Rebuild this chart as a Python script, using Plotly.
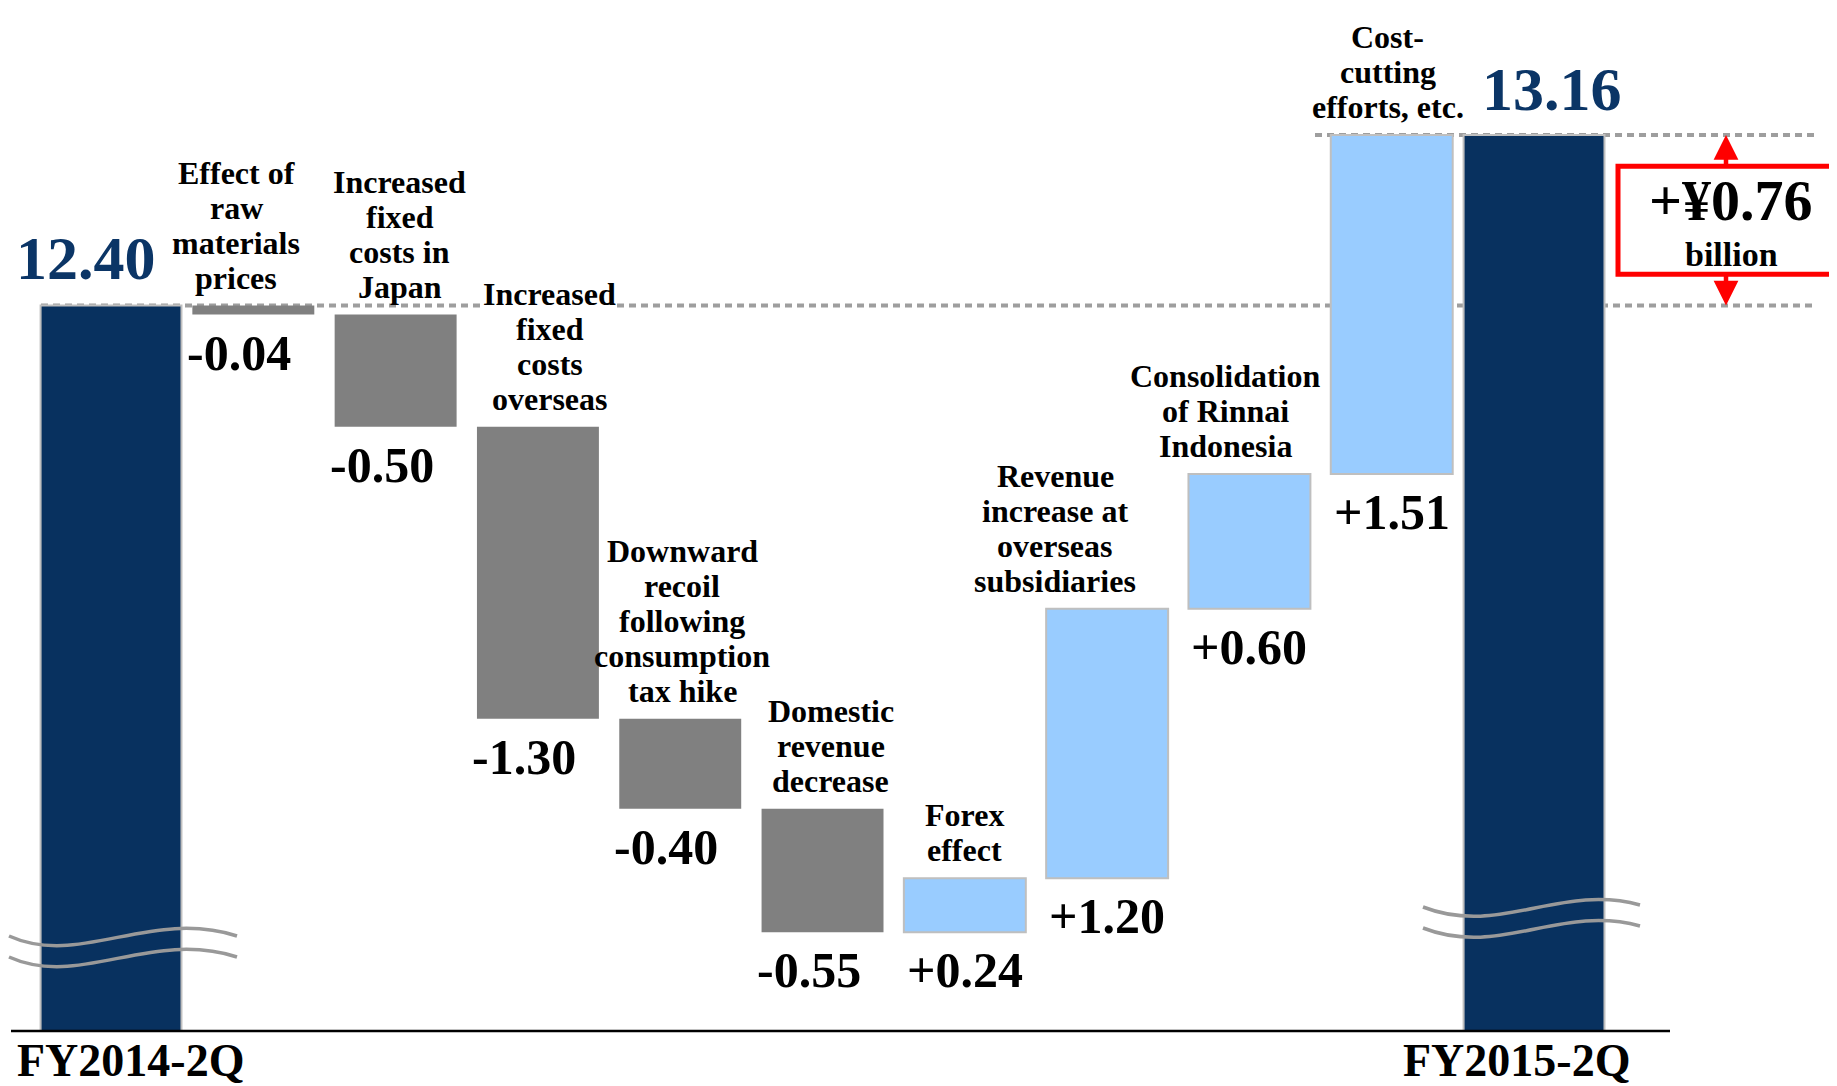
import plotly.graph_objects as go

# data (billion yen)
start_label = "FY2014-2Q"
end_label = "FY2015-2Q"
start_value = 12.40
end_value = 13.16
step_labels = [
    "Effect of\nraw\nmaterials\nprices",
    "Increased\nfixed\ncosts in\nJapan",
    "Increased\nfixed\ncosts\noverseas",
    "Downward\nrecoil\nfollowing\nconsumption\ntax hike",
    "Domestic\nrevenue\ndecrease",
    "Forex\neffect",
    "Revenue\nincrease at\noverseas\nsubsidiaries",
    "Consolidation\nof Rinnai\nIndonesia",
    "Cost-\ncutting\nefforts, etc.",
]
step_values = [-0.04, -0.50, -1.30, -0.40, -0.55, 0.24, 1.20, 0.60, 1.51]

FONT = "Liberation Serif"
NAVY = "#08315F"
OFF = 8                     # page body margin
FW, FH = 1837 - OFF, 1086 - OFF
B = 55                      # bottom margin, axis line sits here
PH = FH - B                 # plot height in px


def paper(x, y):
    # page pixel -> paper coords
    return (x - OFF) / FW, (PH - (y - OFF)) / PH


categories = [start_label] + [s.replace("\n", " ") for s in step_labels] + [end_label]
measures = ["absolute"] + ["relative"] * len(step_values) + ["total"]
values = [start_value] + step_values + [end_value]
widths = [0.99] + [0.857] * len(step_values) + [0.99]

# bar tops / bottoms for the labels
level = start_value
tops, bottoms = [], []
for v in step_values:
    new = level + v
    tops.append(max(level, new))
    bottoms.append(min(level, new))
    level = new

fig = go.Figure(go.Waterfall(
    x=categories, y=values, measure=measures, width=widths,
    connector=dict(visible=False),
    totals=dict(marker=dict(color=NAVY, line=dict(color="#BFBFBF", width=2))),
    decreasing=dict(marker=dict(color="#808080", line=dict(color="#808080", width=0))),
    increasing=dict(marker=dict(color="#99CCFF", line=dict(color="#BFBFBF", width=2))),
    textposition="none", hoverinfo="skip",
))

# step descriptions above bars, one annotation per line for tight spacing
LINE = 35
desc_dx = [-17, 4, 12, 2, 8, 0, -52, -24, -4]
for i, (lab, top) in enumerate(zip(step_labels, tops)):
    lines = lab.split("\n")
    for k, line in enumerate(lines):
        fig.add_annotation(
            x=categories[i + 1], y=top, text=line, showarrow=False,
            yanchor="middle", yshift=28 + (len(lines) - 1 - k) * LINE, xshift=desc_dx[i],
            bgcolor="white" if i == 2 else "rgba(0,0,0,0)", borderpad=0,
            font=dict(family=FONT, size=32, color="black", weight="bold"),
        )

# step values below bars
for i, (v, bot) in enumerate(zip(step_values, bottoms)):
    fig.add_annotation(
        x=categories[i + 1], y=bot, text=f"{v:+.2f}", showarrow=False,
        yanchor="middle", yshift=-38, xshift=-14 if v < 0 else 0,
        font=dict(family=FONT, size=50, color="black", weight="bold"),
    )

# totals
fig.add_annotation(x=start_label, y=start_value, text=f"{start_value:.2f}", showarrow=False,
                   yanchor="bottom", yshift=12, xshift=-25,
                   font=dict(family=FONT, size=62, color="#0B3566", weight="bold"))
fig.add_annotation(x=end_label, y=end_value, text=f"{end_value:.2f}", showarrow=False,
                   yanchor="bottom", yshift=10, xshift=18,
                   font=dict(family=FONT, size=62, color="#0B3566", weight="bold"))

# period labels under the axis
for cat, dx in ((start_label, 19), (end_label, -18)):
    fig.add_annotation(x=cat, y=0, yref="paper", text=cat, showarrow=False,
                       yanchor="top", yshift=-2, xshift=dx,
                       font=dict(family=FONT, size=46, color="black", weight="bold"))

# dotted reference lines
dot = dict(color="#9E9E9E", width=4, dash="7px,5px")
fig.add_shape(type="line", xref="paper", yref="y", x0=paper(41, 0)[0], x1=paper(1814, 0)[0],
              y0=start_value, y1=start_value, line=dot, layer="below")
fig.add_shape(type="line", xref="paper", yref="y", x0=paper(1315, 0)[0], x1=paper(1814, 0)[0],
              y0=end_value, y1=end_value, line=dot, layer="below")

# axis line
fig.add_shape(type="line", xref="paper", yref="paper", x0=paper(11, 0)[0], x1=paper(1670, 0)[0],
              y0=0, y1=0, line=dict(color="black", width=2.5))


# axis-break waves
def wave(p0, c1, c2, p1, dy):
    pts = [paper(x, y + dy) for x, y in (p0, c1, c2, p1)]
    return "M {},{} C {},{} {},{} {},{}".format(*[c for p in pts for c in p])


for dy in (0, 21):
    fig.add_shape(type="path", xref="paper", yref="paper",
                  path=wave((9, 936), (80, 968), (150, 908), (237, 936), dy),
                  line=dict(color="#999999", width=3.5))
    fig.add_shape(type="path", xref="paper", yref="paper",
                  path=wave((1423, 907), (1500, 937), (1560, 883), (1640, 905), dy),
                  line=dict(color="#999999", width=3.5))

# change box with arrows
diff = end_value - start_value
box_lo, box_hi = start_value + 0.14, end_value - 0.14
fig.add_shape(type="rect", xref="paper", yref="y", x0=paper(1618, 0)[0], x1=1.01,
              y0=box_lo, y1=box_hi, line=dict(color="#FF0000", width=5), fillcolor="white")
xc = paper(1731, 0)[0]
fig.add_annotation(x=xc, xref="paper", xanchor="center", y=box_hi, text=f"+¥{diff:.2f}",
                   showarrow=False, yanchor="top", yshift=0,
                   font=dict(family=FONT, size=58, color="black", weight="bold"))
fig.add_annotation(x=xc, xref="paper", xanchor="center", y=box_lo, text="billion",
                   showarrow=False, yanchor="bottom", yshift=-1,
                   font=dict(family=FONT, size=34, color="black", weight="bold"))
for tip, tail in ((end_value, box_hi), (start_value, box_lo)):
    fig.add_annotation(x=paper(1726, 0)[0], xref="paper", y=tip, yref="y", ax=0, axref="pixel",
                       ay=tail, ayref="y", text="", showarrow=True,
                       arrowhead=2, arrowsize=1.1, arrowwidth=4.5, arrowcolor="#FF0000")

fig.update_layout(
    width=FW, height=FH,
    margin=dict(l=0, r=0, t=0, b=B),
    plot_bgcolor="white", paper_bgcolor="white",
    showlegend=False,
    xaxis=dict(range=[-0.724, 12.129], showticklabels=False, showgrid=False,
               zeroline=False, showline=False, ticks=""),
    yaxis=dict(range=[9.17, 13.725], showticklabels=False, showgrid=False,
               zeroline=False, showline=False, ticks=""),
)

fig.write_html("out.html")
